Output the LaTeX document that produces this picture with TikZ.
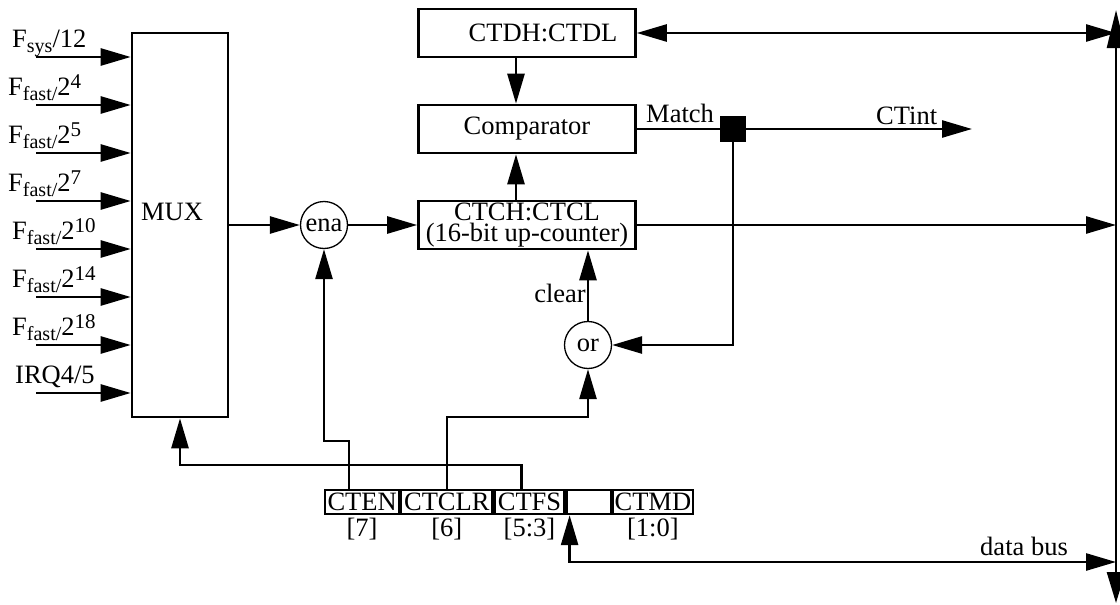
\documentclass[tikz,border=0pt]{standalone}
\usepackage{fontspec}
\setmainfont{Liberation Serif}
\usetikzlibrary{arrows.meta}

% lowered / raised small text for the clock source names
\newcommand\lowtxt[1]{\raisebox{-0.2em}{\fontsize{20}{20}\selectfont #1}}
\newcommand\hightxt[1]{\raisebox{0.24em}{\fontsize{21}{21}\selectfont #1}}

\begin{document}
\begin{tikzpicture}[x=1pt,y=-1pt,
  txt/.style={font=\fontsize{26.5}{28}\selectfont, inner sep=0pt},
  wire/.style={line width=2.6pt},
  blk/.style={draw, line width=2.6pt, minimum width=217pt, minimum height=48pt, txt},
  gate/.style={draw, circle, line width=1.3pt, minimum size=47pt, txt},
  cell/.style={draw, line width=2.2pt, minimum height=24pt, anchor=north west, txt},
  arrowto/.style={-{Triangle[length=30pt,width=17pt]}},
  arrowboth/.style={{Triangle[length=30pt,width=17pt]}-{Triangle[length=30pt,width=17pt]}},
]
\useasboundingbox (0,0) rectangle (1120,605);

% ---- multiplexer and its clock inputs
\node[blk, minimum width=96pt, minimum height=384pt] (mux) at (180,225) {};
\node[txt] (muxlabel) at (172,212) {MUX};

\foreach \i/\yy/\lx/\lab in {
  1/57/12/{F\lowtxt{sys}/12},
  2/105/8/{F\lowtxt{fast/}2\hightxt{4}},
  3/153/8/{F\lowtxt{fast/}2\hightxt{5}},
  4/201/8/{F\lowtxt{fast/}2\hightxt{7}},
  5/249/12/{F\lowtxt{fast/}2\hightxt{10}},
  6/297/12/{F\lowtxt{fast/}2\hightxt{14}},
  7/345/12/{F\lowtxt{fast/}2\hightxt{18}},
  8/393/15/{IRQ4/5}} {
  \coordinate (in\i) at (36,\yy);
  \node[txt, anchor=base west] (inlab\i) at (\lx,\yy-10) {\lab};
  \draw[wire, arrowto] (in\i) -- (mux.west |- in\i);
}

% ---- counter, compare register and comparator
\node[gate] (ena) at (324,225) {ena};
\node[blk, font=\fontsize{26.5}{21}\selectfont, align=center] (ctc) at (527,225) {CTCH:CTCL\\(16-bit up-counter)};
\node[blk] (cmp) at (527,129) {Comparator};
\node[blk] (ctd) at (527,33) {\hspace*{32pt}CTDH:CTDL};
\node[gate] (orgate) at (588,345) {or};
\node[fill=black, inner sep=0pt, minimum size=26pt] (jn) at (733,129) {};

% ---- data bus
\coordinate (bustop) at (1116,10);
\coordinate (busbot) at (1116,603);
\coordinate (dbus) at (1116,562);
\coordinate (ctint) at (972,129);
\draw[wire, {Triangle[length=38pt,width=18pt]}-{Triangle[length=31pt,width=18pt]}] (bustop) -- (busbot);

% ---- control register
\node[cell, minimum width=74pt] (cten) at (324,489) {CTEN};
\node[cell, minimum width=91pt] (ctclr) at (cten.north east) {CTCLR};
\node[cell, minimum width=70pt] (ctfs) at (ctclr.north east) {CTFS};
\node[cell, minimum width=44pt] (gap) at (ctfs.north east) {};
\node[cell, minimum width=80pt] (ctmd) at (gap.north east) {CTMD};
\foreach \c/\b in {cten/[7], ctclr/[6], ctfs/[5:3], ctmd/[1:0]}
  \node[txt, anchor=north] (bit\c) at ([yshift=-3pt]\c.south) {\b};

% ---- connections
\draw[wire, arrowto] (mux.east |- ena.west) -- (ena.west);
\draw[wire, arrowto] (ena) -- (ctc);
\draw[wire, arrowto] ([xshift=-11pt]ctd.south) -- ([xshift=-11pt]cmp.north);
\draw[wire, arrowto] ([xshift=-11pt]ctc.north) -- ([xshift=-11pt]cmp.south);
\draw[wire, arrowboth] (ctd.east) -- (ctd.east -| bustop);
\draw[wire, arrowto] (ctc.east) -- (ctc.east -| bustop);
\draw[wire] (cmp.east) -- (jn);
\draw[wire, arrowto] (jn) -- (ctint);
\draw[wire, arrowto] (jn) |- (orgate.east);
\draw[wire, arrowto] (orgate.north) -- (ctc.south -| orgate.north);
\draw[wire, arrowto] ([xshift=-13pt]cten.north) -- ++(0,-48) -| (ena.south);
\draw[wire, arrowto] (ctclr.north) -- ++(0,-72) -| (orgate.south);
\draw[wire, arrowto] ([xshift=-8pt]ctfs.north) -- ++(0,-24) -| (mux.south);
\draw[wire, arrowboth] ([xshift=4pt]gap.south west) |- (dbus);

% ---- signal labels
\node[txt, anchor=base west] (matchlab) at (646,122) {Match};
\node[txt, anchor=base west] (ctintlab) at (876,124) {CTint};
\node[txt, anchor=base east] (clearlab) at (586,302) {clear};
\node[txt, anchor=base east] (buslab) at (1068,555) {data bus};
\end{tikzpicture}
\end{document}
